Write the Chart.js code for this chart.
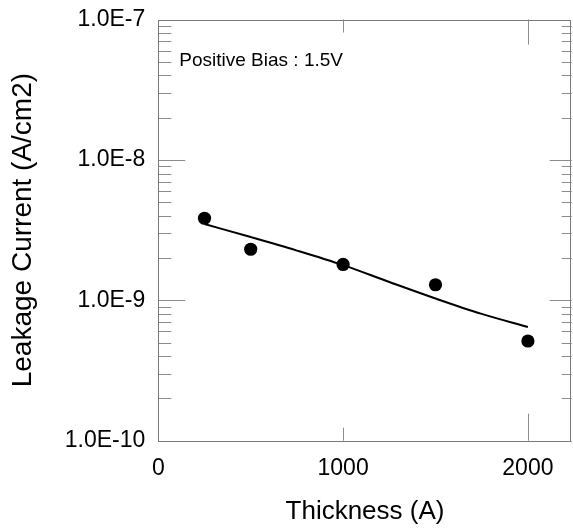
<!DOCTYPE html>
<html>
<head>
<meta charset="utf-8">
<script src="https://cdn.jsdelivr.net/npm/chart.js@4/dist/chart.umd.min.js"></script>
<style>
html, body { margin: 0; padding: 0; background: #fff; }
#wrap { width: 573px; height: 529px; }
</style>
</head>
<body>
<div id="wrap"><canvas id="c" width="573" height="529"></canvas></div>
<script>
// ---- data ----
const thickness = [250, 500, 1000, 1500, 2000];
const leakage = [3.84e-9, 2.31e-9, 1.80e-9, 1.29e-9, 5.13e-10];
const fitThickness = [250, 500, 750, 1000, 1250, 1500, 1750, 2000];
const fitLeakage = [3.49e-9, 2.82e-9, 2.26e-9, 1.78e-9, 1.35e-9, 1.03e-9, 8.0e-10, 6.45e-10];
const xTickValues = [0, 1000, 2000];
const xTickLabels = ['0', '1000', '2000'];
const yTickValues = [1e-10, 1e-9, 1e-8, 1e-7];
const yTickLabels = ['1.0E-10', '1.0E-9', '1.0E-8', '1.0E-7'];
const xMin = 0, xMax = 2237;
const yMin = 1e-10, yMax = 1e-7;
const xTitle = 'Thickness (A)';
const yTitle = 'Leakage Current (A/cm2)';
const annotation = 'Positive Bias : 1.5V';

const FONT = '"Liberation Sans", Arial, Helvetica, sans-serif';
Chart.defaults.font.family = FONT;
Chart.defaults.color = '#000';

const framePlugin = {
  id: 'frame',
  afterDraw(chart) {
    const { ctx, chartArea: a, scales: { x, y } } = chart;
    ctx.save();
    ctx.lineWidth = 1;
    ctx.strokeStyle = '#8c8c8c';
    ctx.beginPath();
    // y minor/major ticks (inward, both sides)
    for (let d = Math.round(Math.log10(yMin)); d < Math.round(Math.log10(yMax)); d++) {
      for (let m = 1; m <= 9; m++) {
        const v = m * Math.pow(10, d);
        const py = Math.round(y.getPixelForValue(v)) + 0.5;
        const major = m === 1;
        const l = major ? 27 : 13, r = major ? 22 : 10;
        ctx.moveTo(a.left, py); ctx.lineTo(a.left + l, py);
        ctx.moveTo(a.right, py); ctx.lineTo(a.right - r, py);
      }
    }
    // x ticks (inward, bottom and top)
    xTickValues.forEach((v, i) => {
      if (v <= xMin) return;
      const px = Math.round(x.getPixelForValue(v)) + 0.5;
      const lb = i === 1 ? 13 : 27, lt = i === 1 ? 13 : 25;
      ctx.moveTo(px, a.bottom); ctx.lineTo(px, a.bottom - lb);
      ctx.moveTo(px, a.top); ctx.lineTo(px, a.top + lt);
    });
    ctx.stroke();
    // frame
    ctx.strokeStyle = '#7a7a7a';
    ctx.strokeRect(Math.round(a.left) + 0.5, Math.round(a.top) + 0.5,
                   Math.round(a.right - a.left) - 1, Math.round(a.bottom - a.top));
    // annotation
    ctx.fillStyle = '#000';
    ctx.font = '19px ' + FONT;
    ctx.textBaseline = 'alphabetic';
    ctx.textAlign = 'left';
    ctx.fillText(annotation, a.left + 21, a.top + 46);
    ctx.restore();
  }
};

new Chart(document.getElementById('c'), {
  type: 'scatter',
  data: {
    datasets: [
      {
        label: 'fit',
        data: fitThickness.map((t, i) => ({ x: t, y: fitLeakage[i] })),
        showLine: true,
        borderColor: '#000',
        borderWidth: 2,
        pointRadius: 0,
        pointHoverRadius: 0,
        cubicInterpolationMode: 'monotone',
        order: 2
      },
      {
        label: 'measured',
        data: thickness.map((t, i) => ({ x: t, y: leakage[i] })),
        backgroundColor: '#000',
        borderColor: '#000',
        pointRadius: 6.6,
        pointBorderWidth: 0,
        order: 1
      }
    ]
  },
  options: {
    responsive: false,
    devicePixelRatio: 1,
    animation: false,
    events: [],
    layout: { autoPadding: false, padding: { top: 19.5, right: 1.3, left: 0, bottom: 0 } },
    plugins: { legend: { display: false }, tooltip: { enabled: false } },
    scales: {
      x: {
        type: 'linear',
        min: xMin, max: xMax,
        grid: { display: false, drawTicks: false },
        border: { display: false },
        afterBuildTicks: s => { s.ticks = xTickValues.map(v => ({ value: v })); },
        afterFit: s => { s.height = 88.3; s.paddingLeft = 0; s.paddingRight = 0; },
        ticks: {
          font: { size: 23 }, padding: 14, maxRotation: 0, autoSkip: false, color: '#000',
          callback: (v, i) => xTickLabels[i]
        },
        title: { display: true, text: xTitle, font: { size: 26 }, padding: { top: 0, bottom: 2 }, color: '#000' }
      },
      y: {
        type: 'logarithmic',
        min: yMin, max: yMax,
        grid: { display: false, drawTicks: false },
        border: { display: false },
        afterBuildTicks: s => { s.ticks = yTickValues.map(v => ({ value: v, major: true })); },
        afterFit: s => { s.width = 158.3; s.paddingTop = 0; s.paddingBottom = 0; },
        ticks: {
          font: { size: 23 }, padding: 13, autoSkip: false, color: '#000',
          callback: (v, i) => yTickLabels[i]
        },
        title: { display: true, text: yTitle, font: { size: 28 }, padding: { top: 6, bottom: 0 }, color: '#000' }
      }
    }
  },
  plugins: [framePlugin]
});
</script>
</body>
</html>
